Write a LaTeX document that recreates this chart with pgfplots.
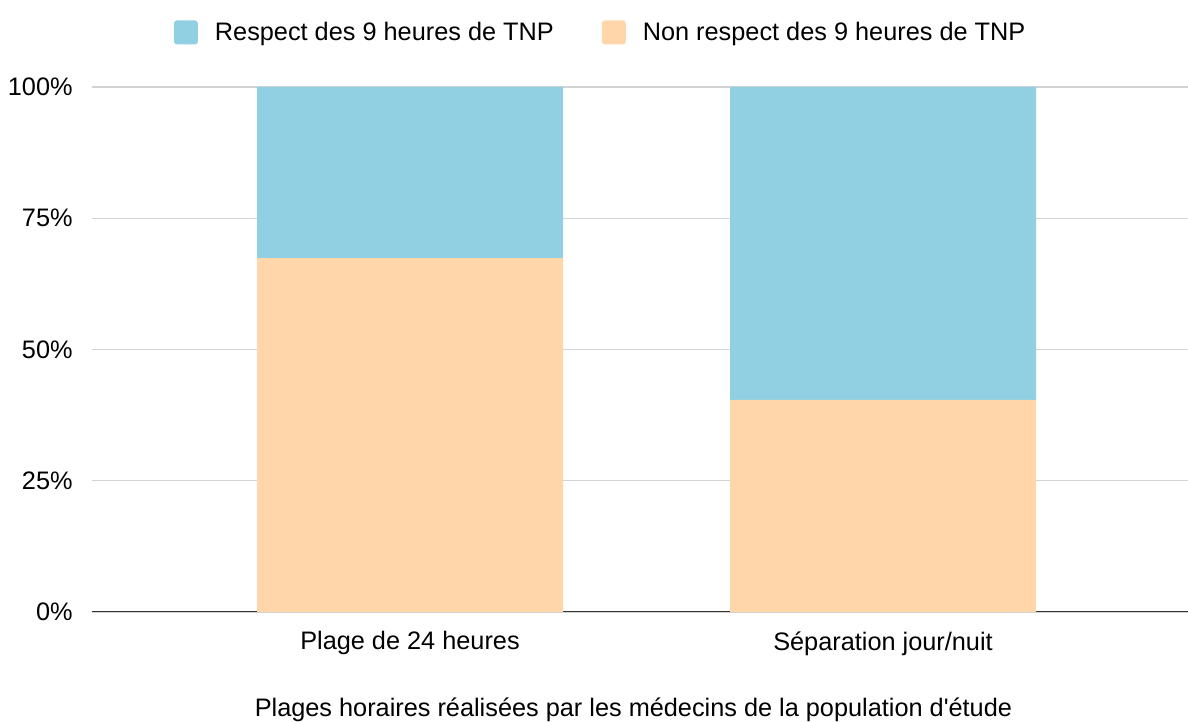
\documentclass[border=0pt]{standalone}
\usepackage{fontspec}
\setmainfont{Liberation Sans}[Ligatures=TeXOff]
\usepackage{pgfplots}
\pgfplotsset{compat=1.18}
\definecolor{cblue}{HTML}{91D0E2}
\definecolor{corange}{HTML}{FFD6AA}
\definecolor{cgrid}{HTML}{D3D3D3}
\definecolor{caxis}{HTML}{333333}
\begin{document}
\begin{tikzpicture}[font=\fontsize{12.65}{15}\selectfont]
\useasboundingbox (-46pt,-55pt) rectangle (548pt,306pt);
\begin{axis}[
  at={(0pt,0pt)}, anchor=south west,
  scale only axis, width=548pt, height=262.5pt,
  ybar stacked, bar width=153pt,
  xmin=-0.6723, xmax=1.6448, ymin=0, ymax=100,
  axis line style={draw=none},
  major tick length=0pt,
  ymajorgrids, grid style={cgrid, line width=0.6pt},
  ytick={0,25,50,75,100},
  yticklabels={0\%,25\%,50\%,75\%,100\%},
  yticklabel style={inner sep=0pt, xshift=-9.5pt},
  xtick={0,1},
  xticklabels={Plage de 24 heures, Séparation jour/nuit},
  xticklabel style={inner sep=0pt, yshift=-9.5pt},
  xlabel={Plages horaires réalisées par les médecins de la population d'étude},
  xlabel style={inner sep=0pt, anchor=north, at={(axis description cs:0.494,0)}, yshift=-42.5pt},
  reverse legend,
  legend columns=2,
  legend cell align=left,
  legend image code/.code={\fill[#1, rounded corners=1.5pt] (0pt,-6pt) rectangle (12pt,6pt);},
  legend style={draw=none, fill=none, at={(axis description cs:0.465,1.104)}, anchor=center,
    /tikz/every odd column/.append style={column sep=6.5pt},
    /tikz/every even column/.append style={column sep=22pt}},
]
\addplot[fill=corange, draw=none] coordinates {(0,67.4) (1,40.4)};
\addplot[fill=cblue, draw=none] coordinates {(0,32.6) (1,59.6)};
\legend{Non respect des 9 heures de TNP, Respect des 9 heures de TNP}
\draw[caxis, line width=1pt] (axis cs:-0.6723,0) -- (axis cs:1.6448,0);
\end{axis}
\end{tikzpicture}
\end{document}
